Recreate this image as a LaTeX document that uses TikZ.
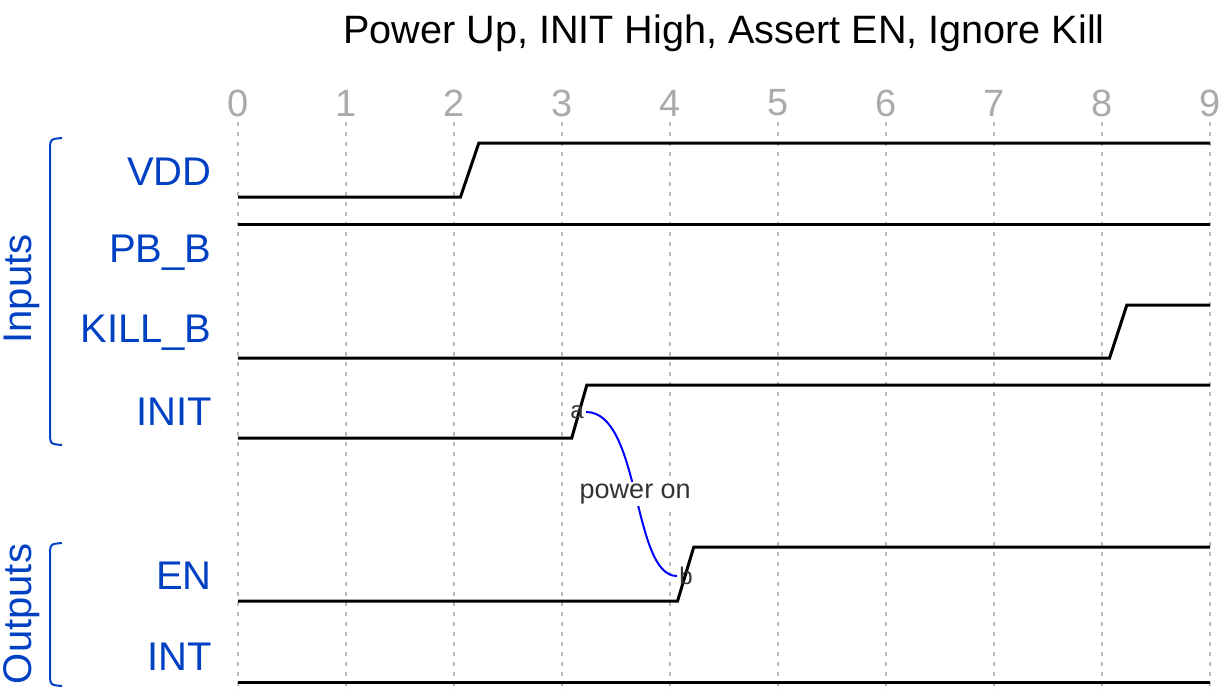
\documentclass[tikz,border=0pt]{standalone}
\usepackage{fontspec}
\setmainfont{Liberation Sans}
\usepackage{xcolor}
\usetikzlibrary{positioning}
\definecolor{sigblue}{HTML}{0041C4}
\definecolor{tickgray}{HTML}{AAAAAA}

\begin{document}
\begin{tikzpicture}[x=0.5pt, y=-0.5pt,
            wave/.style={line width=1.5pt, black, line join=miter},
            gridline/.style={draw=gray!55, line width=1pt, dash pattern=on 2pt off 3pt},
            tick/.style={text=tickgray, font=\fontsize{19}{22}\selectfont, inner sep=0pt},
            sig/.style={anchor=east, text=sigblue, font=\fontsize{20}{24}\selectfont, inner sep=0pt},
            group/.style={rotate=90, text=sigblue, font=\fontsize{20}{24}\selectfont, inner sep=0pt},
            bracket/.style={draw=sigblue, line width=1pt},
            ptlabel/.style={text=black!80, font=\fontsize{12}{14}\selectfont, inner sep=1pt},
            link/.style={draw=blue, line width=1pt}]
            \useasboundingbox (0,0) rectangle (1225,692);

            \node[anchor=base, inner sep=0pt, font=\fontsize{19.8}{24}\selectfont] (title) at (724,43) {Power Up, INIT High, Assert EN, Ignore Kill};

            % grid and time ticks
            \begin{scope}[shift={(238,0)}, x=54pt]
                \foreach \t in {0,...,9} {
                    \draw[gridline] (\t,122) -- (\t,692);
                    \node[tick] (t\t) at (\t,103) {\t};
                }

                % waves
                \draw[wave] (0,197) -- (2.06,197) -- (2.23,143) -- (9,143);
                \draw[wave] (0,224) -- (9,224);
                \draw[wave] (0,358) -- (8.07,358) -- (8.23,305) -- (9,305);
                \draw[wave] (0,438) -- (3.09,438) -- (3.23,385) -- (9,385);
                \draw[wave] (0,601) -- (4.07,601) -- (4.22,547) -- (9,547);
                \draw[wave] (0,682) -- (9,682);
            \end{scope}

            % signal names
            \node[sig] (vdd) at (212,172) {VDD};
            \node[sig] (pbb) at (212,253) {PB\_B};
            \node[sig] (killb) at (212,333) {KILL\_B};
            \node[sig] (init) at (212,412) {INIT};
            \node[sig] (en) at (212,576) {EN};
            \node[sig] (int) at (212,657) {INT};

            % groups
            \draw[bracket] (62,138) .. controls (50,139) .. (50,152) -- (50,431) .. controls (50,444) .. (62,445);
            \node[group] (inputs) at (22,289) {Inputs};
            \draw[bracket] (62,543) .. controls (50,544) .. (50,557) -- (50,672) .. controls (50,685) .. (62,686);
            \node[group] (outputs) at (22,614) {Outputs};

            % edge between a and b
            \node[ptlabel] (a) at (577,412) {a};
            \node[ptlabel] (b) at (686,576) {b};
            \draw[link] (a.east) .. controls +(55,0) and +(-45,0) .. (b.west)
                node[pos=0.5, fill=white, inner sep=1pt, text=black!80, font=\fontsize{13.5}{16}\selectfont] (pwr) {power on};
        \end{tikzpicture}
\end{document}
